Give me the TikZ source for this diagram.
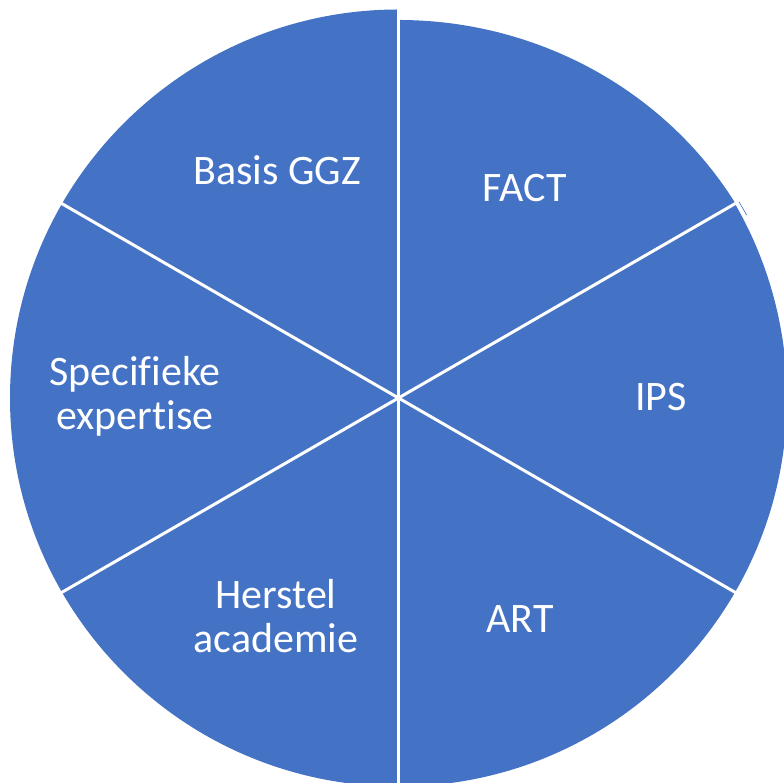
\documentclass[tikz,border=0pt]{standalone}
\usepackage{fontspec}
\setmainfont{Carlito}[Ligatures=CommonOff]
\definecolor{pieblue}{HTML}{4472C4}
\tikzset{
  divider/.style={draw=white, line width=3pt},
  lbl/.style={text=white, font=\fontsize{42pt}{44.5pt}\selectfont, align=center, inner sep=0pt}
}
\begin{document}
\begin{tikzpicture}[x=1pt,y=1pt]
\useasboundingbox (0,0) rectangle (784,783);
\clip (0,0) rectangle (784,783);
\coordinate (c) at (398.5,385);
% five circular sectors
\fill[pieblue] (c) -- ++(90:388.5) arc[start angle=90,end angle=390,radius=388.5] -- cycle;
% FACT sector (slightly elliptical)
\fill[pieblue] (c) -- ++(31:393 and 378) arc[start angle=31,end angle=90,x radius=393,y radius=378] -- cycle;
% small artefact at the FACT / IPS corner
\draw[pieblue, line width=0.8pt] (739,581) -- (746.5,568);
\draw[white, line width=2pt] (737,581.5) -- (744.5,568.5);
% dividers
\foreach \a in {30,90,150,210,270,330}
  \draw[divider] (c) -- ++(\a:392);
% labels
\node[lbl, anchor=base] (basis) at (277,598) {Basis GGZ};
\node[lbl, anchor=base] (fact) at (524.5,581) {FACT};
\node[lbl, anchor=base] (ips) at (661,372) {IPS};
\node[lbl, anchor=base] (art) at (520,150) {ART};
\node[lbl, anchor=base] (spec) at (135,353) {Specifieke\\expertise};
\node[lbl, anchor=base] (herstel) at (276,130) {Herstel\\academie};
\end{tikzpicture}
\end{document}
